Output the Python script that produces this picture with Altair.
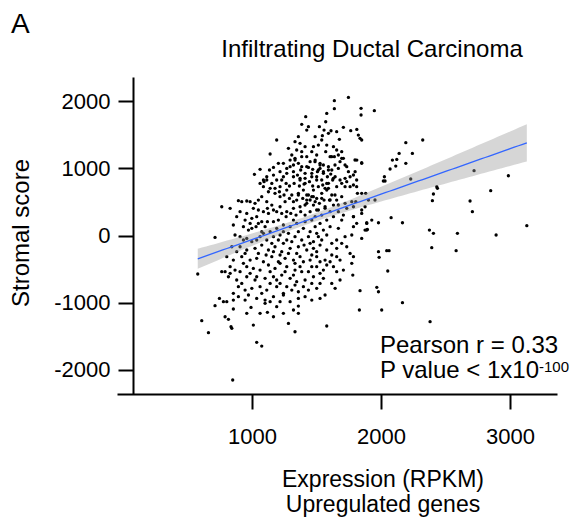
import altair as alt
import numpy as np
import pandas as pd

# (expression RPKM, stromal score) pairs, grouped by region
upper_cloud = [
    (1747, 2054), (1638, 2005), (1638, 1886), (1845, 1891), (1845, 1792), (1948, 1856), (1579, 1816),
    (1416, 1767), (1385, 1653), (1424, 1568), (1437, 1618), (1522, 1618), (1571, 1692), (1558, 1568),
    (1592, 1519), (1656, 1544), (1708, 1608), (1677, 1430), (1765, 1559), (1812, 1578), (1837, 1445),
    (1850, 1420), (1191, 1420), (1359, 1469), (1333, 1395), (1372, 1370), (1346, 1271), (1489, 1469),
    (1540, 1420), (1476, 1321), (1514, 1345), (1579, 1345), (1571, 1246), (1631, 1321), (1656, 1271),
    (1695, 1246), (1638, 1172), (1140, 1212), (1062, 984), (1018, 909), (1062, 775), (1088, 825),
    (1282, 1296), (1308, 1197), (1295, 1122), (1333, 1147), (1359, 1073), (1385, 1023), (1424, 1172),
    (1450, 1098), (1489, 1122), (1527, 1073), (1553, 1048), (1592, 1023), (1618, 974), (1708, 1147),
    (1669, 998), (1734, 1023), (1812, 1122), (1850, 1073), (1799, 949), (1463, 1246), (1501, 1197),
    (1605, 1172), (1682, 1098), (1385, 1246), (1411, 1321), (1321, 1048), (1243, 1073), (1269, 998),
    (1166, 899), (1114, 825), (1545, 1484), (1612, 1558), (1824, 1494),
]

upper_core = [
    (1333, 1123), (1385, 1172), (1424, 1023), (1488, 1098), (1527, 1048), (1514, 974), (1553, 949),
    (1592, 974), (1463, 874), (1501, 825), (1411, 776), (1372, 850), (1617, 1172), (1643, 1048),
    (1669, 1197), (1695, 1148), (1721, 1048), (1747, 949), (1786, 900), (1811, 825), (1695, 776),
    (1721, 850), (1630, 850), (1592, 776), (1566, 702), (1656, 726), (1760, 726), (1798, 1123),
    (1850, 1083), (1811, 726),
    (1359, 627), (1424, 602), (1475, 577), (1540, 553), (1605, 528), (1643, 602), (1450, 528),
    (1411, 454), (1501, 379), (1566, 404), (1669, 454), (1721, 479), (1773, 503), (1850, 379),
    (1786, 280), (1928, 230), (1953, 528), (1889, 82), (1811, 181),
]

mid_cloud = [
    (1204, 1073), (1166, 1013), (1135, 974), (1217, 949), (1243, 874), (1191, 825), (1153, 775),
    (1217, 726), (1269, 924), (1321, 874), (1372, 825), (1411, 850), (1463, 924), (1501, 874),
    (1540, 825), (1579, 775), (1644, 874), (1682, 825), (1734, 800), (1760, 874), (1786, 751),
    (1721, 726), (1088, 726), (1127, 651), (1075, 577), (1114, 503), (1178, 627), (1217, 577),
    (1269, 676), (1308, 602), (1346, 527), (1256, 503), (1398, 676), (1437, 602), (1476, 676),
    (1501, 552), (1540, 627), (1579, 676), (1618, 602), (1656, 527), (1695, 577),
    (1295, 1023), (1321, 949), (1352, 899), (1377, 974), (1411, 924), (1437, 1013), (1470, 984),
    (1507, 949), (1527, 998), (1553, 924), (1584, 874), (1610, 914), (1625, 825), (1230, 825),
    (1264, 775), (1290, 736), (1326, 775), (1367, 736), (1403, 765), (1445, 800), (1470, 736),
    (1514, 726), (1548, 751), (1592, 701), (1114, 874), (1093, 800), (1140, 701), (1178, 701),
    (1212, 651), (1248, 602), (1290, 552), (1321, 503), (1359, 602), (1393, 552), (1424, 527),
    (1463, 577), (1489, 503), (1522, 478), (1558, 527), (1600, 527),
]

zero_band = [
    (894, 518), (920, 503), (959, 513), (985, 503), (1023, 478), (1049, 527), (1010, 404), (765, 428),
    (830, 404), (907, 354), (881, 280), (946, 230), (985, 180), (1036, 280), (1075, 205), (1127, 329),
    (1166, 379), (1217, 428), (1269, 354), (1321, 404), (1372, 428), (1424, 478), (1476, 453),
    (1514, 379), (1566, 428), (1631, 453), (1669, 354), (1708, 304), (1734, 404), (1786, 428),
    (1876, 428), (1902, 527), (855, 156), (933, 131), (972, 81), (998, 106), (1049, 180), (1101, 131),
    (1140, 57), (1191, 106), (1243, 156), (1295, 131), (1346, 180), (1398, 106), (1450, 57),
    (1489, 131), (1527, 180), (1579, 230), (1631, 280), (1695, 230), (1786, 280), (1786, 131),
    (1850, 329), (1876, 81), (1889, 180),
    (1049, 379), (1088, 354), (1119, 404), (1153, 453), (1191, 354), (1230, 329), (1264, 280),
    (1300, 329), (1341, 304), (1377, 354), (1411, 304), (1450, 354), (1489, 280), (1540, 304),
    (1605, 354), (959, 329), (998, 255), (1031, 131), (1075, 57), (1119, 205), (1166, 205),
    (1204, 230), (1243, 57), (1282, 32), (1321, 230), (1359, 57), (1411, 205), (1463, 230),
    (1501, 32), (1553, 81), (1605, 131), (1669, 106),
]

below_zero = [
    (713, -28), (868, 7), (907, -18), (959, -43), (998, -92), (1062, -18), (1114, -67), (1166, -18),
    (1217, 7), (1269, -67), (1333, -18), (1385, -67), (1437, -18), (1476, -92), (1514, -18),
    (1579, 7), (1656, -67), (1721, -18), (1773, 7), (1850, -43),
    (843, -167), (907, -167), (959, -216), (1023, -191), (1075, -142), (1127, -216), (1178, -167),
    (1230, -241), (1295, -191), (1359, -167), (1424, -216), (1476, -191), (1527, -142), (1579, -216),
    (1656, -191), (1734, -167), (1760, -266),
    (804, -315), (855, -365), (920, -315), (985, -365), (1036, -340), (1088, -390), (1153, -315),
    (1204, -390), (1256, -340), (1321, -365), (1372, -315), (1450, -365), (1501, -315), (1566, -365),
    (1618, -290), (1682, -365), (1786, -315),
    (765, -538), (791, -538), (830, -563), (868, -514), (907, -538), (959, -464), (1010, -489),
    (1062, -514), (1127, -439), (1178, -489), (1217, -414), (1269, -464), (1333, -514), (1385, -538),
    (1437, -538), (1501, -464), (1553, -514), (1579, -439), (1656, -538), (1708, -514), (1773, -414),
    (933, -67), (1036, -67), (1088, 32), (1153, -117), (1204, -67), (1243, -117), (1308, -92),
    (1346, -266), (1403, -142), (1450, -117), (1501, -241), (1540, -67), (1618, -117), (1695, -117),
    (881, -241), (946, -266), (1049, -266), (1109, -290), (1166, -241), (1217, -290), (1282, -266),
    (1333, -414), (1398, -390), (1463, -290), (1527, -390), (1605, -390), (1656, -315), (830, -464),
    (933, -414), (985, -563), (1036, -613), (1140, -538), (1191, -662), (1256, -538), (1321, -588),
    (1372, -464), (1463, -464), (1527, -563), (1631, -464),
]

lower_tail = [
    (579, -573), (817, -613), (881, -662), (959, -613), (1023, -662), (1101, -637), (1166, -613),
    (1230, -588), (1295, -637), (1346, -687), (1411, -662), (1476, -613), (1553, -637), (1618, -712),
    (1682, -662),
    (855, -860), (894, -761), (946, -811), (998, -786), (1062, -761), (1114, -811), (1191, -761),
    (1243, -860), (1308, -811), (1359, -836), (1437, -811), (1501, -786), (1566, -885), (1644, -786),
    (1837, -821), (1967, -771), (1980, -836),
    (747, -935), (778, -984), (804, -984), (855, -960), (946, -960), (1036, -935), (1101, -960),
    (1166, -910), (1243, -885), (1295, -984), (1359, -935), (1527, -935),
    (713, -1044), (855, -1093), (992, -1069), (1101, -1009), (1191, -1059), (1321, -1108),
    (1359, -1158), (1359, -1049),
    (610, -1267), (791, -1208), (817, -1247), (1119, -1143), (1282, -1307), (1579, -1346),
    (662, -1445), (837, -1356), (843, -1381), (1010, -1332), (1333, -1431), (1832, -1108),
    (1036, -1589), (1075, -1644), (850, -2149),
    (920, -712), (1075, -860), (1140, -712), (1217, -712), (1269, -761), (1333, -737), (1398, -761),
    (1463, -712), (1527, -712), (894, -910), (972, -885), (1140, -984), (1217, -984), (1411, -910),
    (1463, -960), (1062, -1158), (1166, -1208), (959, -1158), (1243, -1158),
]

right_tail = [
    (2192, 1380), (2323, 1420), (2243, 1221), (2140, 1221), (2122, 1132), (2088, 1122), (2192, 1073),
    (2114, 1033), (2070, 989), (2026, 874), (2031, 810), (2018, 810), (2230, 840), (2721, 964),
    (2987, 889), (2432, 726), (2437, 701), (2406, 617), (2398, 518), (2850, 666), (2690, 513),
    (2708, 354), (1980, 190), (2078, 265), (2166, 190), (2375, 81), (2406, 32), (2592, 32),
    (2892, 7), (3130, 146), (2393, -181), (2582, -226), (1980, -241), (2044, -226), (2062, -226),
    (1985, -325), (2052, -528), (1781, -588), (2166, -999), (2005, -1108), (2380, -1282),
    (1817, 627), (1850, 627), (1881, 627), (1804, 503), (1889, 190), (1894, 91),
]

x_ticks = [1000, 2000, 3000]
y_ticks = [-2000, -1000, 0, 1000, 2000]
panel_label = "A"
chart_title = "Infiltrating Ductal Carcinoma"
y_title = "Stromal score"
x_title_lines = ["Expression (RPKM)", "Upregulated genes"]
stat_lines = ["Pearson r = 0.33", "P value < 1x10"]
p_exponent = "-100"

points = upper_cloud + upper_core + mid_cloud + zero_band + below_zero + lower_tail + right_tail
df = pd.DataFrame(points, columns=["expr", "score"])

# linear fit with 95% confidence band, computed from the points
xv = df["expr"].to_numpy(float)
yv = df["score"].to_numpy(float)
n = len(xv)
slope, intercept = np.polyfit(xv, yv, 1)
grid = np.linspace(xv.min(), xv.max(), 80)
pred = intercept + slope * grid
resid = yv - (intercept + slope * xv)
s = np.sqrt((resid ** 2).sum() / (n - 2))
sxx = ((xv - xv.mean()) ** 2).sum()
se = s * np.sqrt(1.0 / n + (grid - xv.mean()) ** 2 / sxx)
tcrit = 1.965
fit = pd.DataFrame({"expr": grid, "fit": pred, "lo": pred - tcrit * se, "hi": pred + tcrit * se})

FONT = "Liberation Sans"
xscale = alt.Scale(domain=[-47, 3364], nice=False, zero=False)
yscale = alt.Scale(domain=[-2357, 2357], nice=False, zero=False)

xaxis = alt.Axis(values=x_ticks, title=None, grid=False, labelExpr="'' + datum.value",
                 domainColor="black", domainWidth=2, tickColor="black", tickWidth=2, tickSize=15,
                 labelFont=FONT, labelFontSize=22, labelColor="black", labelPadding=17)
yaxis = alt.Axis(values=y_ticks, title=None, grid=False, labelExpr="'' + datum.value",
                 domainColor="black", domainWidth=2, tickColor="black", tickWidth=2, tickSize=15,
                 labelFont=FONT, labelFontSize=22, labelColor="black", labelPadding=8, offset=-16)

pts = alt.Chart(df).mark_circle(size=11, color="black", opacity=1).encode(
    x=alt.X("expr:Q", scale=xscale, axis=xaxis),
    y=alt.Y("score:Q", scale=yscale, axis=yaxis),
)
band = alt.Chart(fit).mark_area(color="#999999", opacity=0.4).encode(
    x=alt.X("expr:Q", scale=xscale, axis=xaxis),
    y=alt.Y("lo:Q", scale=yscale, axis=yaxis),
    y2="hi:Q",
)
line = alt.Chart(fit).mark_line(color="#3366FF", strokeWidth=1.3).encode(
    x=alt.X("expr:Q", scale=xscale, axis=xaxis),
    y=alt.Y("fit:Q", scale=yscale, axis=yaxis),
)


def label(text, x, y, size, align="left", angle=0):
    return alt.Chart(pd.DataFrame({"t": [text]})).mark_text(
        font=FONT, fontSize=size, color="black", align=align, baseline="alphabetic", angle=angle
    ).encode(x=alt.value(x), y=alt.value(y), text="t:N")


texts = [
    label(panel_label, -106, -44, 28),
    label(chart_title, 255, -20, 24, align="center"),
    label(y_title, -88, 156, 24, align="center", angle=270),
    label(x_title_lines[0], 266, 410, 23, align="center"),
    label(x_title_lines[1], 266, 435, 23, align="center"),
    label(stat_lines[0], 263, 276, 24),
    label(stat_lines[1], 263, 301, 24),
    label(p_exponent, 422, 295, 15),
]

chart = alt.layer(pts, band, line, *texts).properties(
    width=440, height=317,
    autosize=alt.AutoSizeParams(type="none"),
    padding={"left": 109, "top": 69, "right": 14, "bottom": 128},
).configure_view(stroke=None)

chart.save("out.html", embed_options={"renderer": "svg", "actions": False})
